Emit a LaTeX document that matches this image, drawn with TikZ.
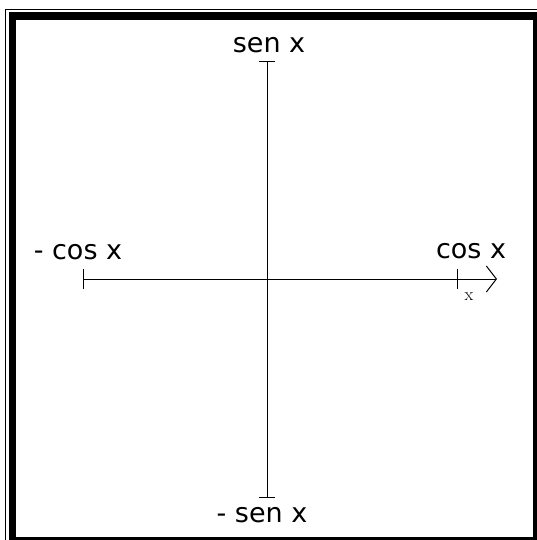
\documentclass[tikz,border=0pt]{standalone}
\usepackage{fontspec}
\setsansfont{DejaVu Sans}
\usetikzlibrary{arrows.meta}

\begin{document}
\begin{tikzpicture}[x=1pt, y=-1pt,
  lbl/.style={font=\sffamily\fontsize{27}{30}\selectfont, inner sep=0pt, anchor=base},
  axis/.style={line width=1pt},
  tickmark/.style={line width=1pt}]
  \useasboundingbox (0,0) rectangle (537,540);
  % frame
  \fill[black] (9,12) rectangle (537,540);
  \fill[white] (16,20) rectangle (533,537);
  \draw[line width=1.2pt] (5.5,540) -- (5.5,9.5) -- (537,9.5);
  % axes
  \coordinate (top) at (267,62);
  \coordinate (bot) at (267,497);
  \coordinate (left) at (83,279);
  \coordinate (right) at (457,279);
  \coordinate (tip) at (497,279);
  \draw[axis] (top) -- (bot);
  \draw[axis, -{Straight Barb[length=10pt, width=26pt]}] (left) -- (tip);
  \draw[tickmark] ([xshift=-8pt]top) -- ([xshift=8pt]top);
  \draw[tickmark] ([xshift=-8pt]bot) -- ([xshift=8pt]bot);
  \draw[tickmark] ([yshift=-10pt]left) -- ([yshift=10pt]left);
  \draw[tickmark] ([yshift=-10pt]right) -- ([yshift=10pt]right);
  % labels
  \node[lbl] (sen) at (269,53) {sen x};
  \node[lbl] (msen) at (262,522) {- sen x};
  \node[lbl] (mcos) at (78,259) {- cos x};
  \node[lbl] (cos) at (471,258) {cos x};
  \node[font=\fontsize{18}{20}\selectfont, inner sep=0pt, anchor=base] (var) at (469,300) {x};
\end{tikzpicture}
\end{document}
